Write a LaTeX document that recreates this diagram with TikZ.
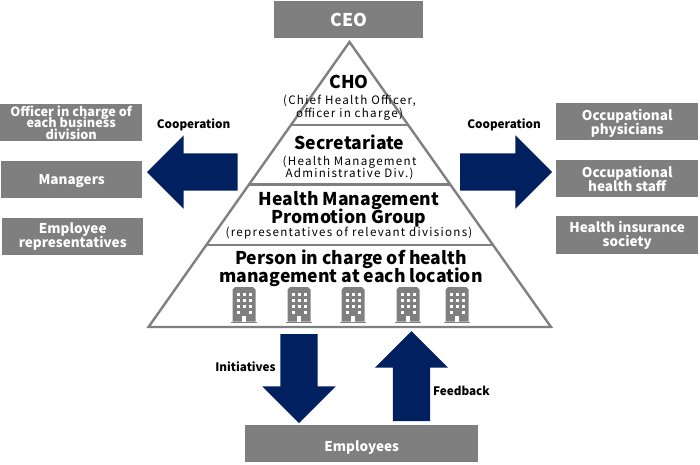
\documentclass[tikz,border=0pt]{standalone}
\usepackage{fontspec}
\setmainfont{Noto Sans CJK JP}
\usetikzlibrary{positioning}
\usetikzlibrary{calc}
\usetikzlibrary{shapes.arrows}
\definecolor{boxgray}{HTML}{7F7F7F}
\definecolor{linegray}{HTML}{808080}
\definecolor{arrownavy}{HTML}{002060}
\tikzset{
    every node/.append style={execute at begin node={\lineskiplimit=-100pt\relax}},
    graybox/.style={fill=boxgray,text=white,font=\bfseries\fontsize{13.5}{14}\selectfont,align=center,anchor=north west,inner sep=0pt},
    level/.style={align=center,font=\bfseries\fontsize{17.6}{18}\selectfont,inner sep=0pt},
    sublevel/.style={align=center,font=\fontsize{11.6}{12.5}\selectfont\addfontfeatures{LetterSpace=11},inner sep=0pt},
    tag/.style={font=\bfseries\fontsize{11.7}{14}\selectfont,inner sep=0pt},
    bigarrow/.style={single arrow,fill=arrownavy,inner sep=18.5pt,outer sep=0pt,minimum width=73,single arrow head extend=18,single arrow tip angle=90,anchor=tip},
    building/.pic={
        \fill[boxgray] (-13,17) rectangle (13,18.5);
        \fill[boxgray] (-11.5,17) -- (-11.5,-15) -- (-9,-17.5) -- (9,-17.5) -- (11.5,-15) -- (11.5,17) -- cycle;
        \foreach \wx in {-6,0,6}
            \foreach \wy in {-10,-4,2}
                \fill[white] (\wx-1.5,\wy-1.5) rectangle (\wx+1.5,\wy+1.5);
        \foreach \wx in {-6,6}
            \fill[white] (\wx-1.5,6.5) rectangle (\wx+1.5,9.5);
        \fill[white] (-1.7,11) rectangle (1.7,17);
    }
}

\begin{document}
\begin{tikzpicture}[x=1pt,y=-1pt]
    \useasboundingbox (0,0) rectangle (700,464);
    % pyramid
    \coordinate (apex) at (349.5,42);
    \coordinate (baseL) at (148.5,327);
    \coordinate (baseR) at (551,327);
    \draw [linegray,line width=2.4pt,line join=miter] (apex) -- (baseL) -- (baseR) -- cycle;
    \draw [linegray,line width=2.4pt] ($(apex)!0.291!(baseL)$) -- ($(apex)!0.291!(baseR)$);
    \draw [linegray,line width=2.4pt] ($(apex)!0.5!(baseL)$) -- ($(apex)!0.5!(baseR)$);
    \draw [linegray,line width=2.4pt] ($(apex)!0.712!(baseL)$) -- ($(apex)!0.712!(baseR)$);
    % levels
    \node (cho) [level] at (349,81.5) {CHO};
    \node (chosub) [sublevel] at (349.5,107.5) {(Chief Health Officer,\\officer in charge)};
    \node (secretariate) [level] at (349.5,142) {Secretariate};
    \node (secretariatesub) [sublevel] at (349.5,168) {(Health Management\\Administrative Div.)};
    \node (promotion) [level] at (349,209.5) {Health Management\\Promotion Group};
    \node (promotionsub) [sublevel] at (349,233.5) {(representatives of relevant divisions)};
    \node (person) [level] at (351,268.5) {Person in charge of health\\management at each location};
    % buildings
    \foreach \bx in {244,299,353,408,457}
        \pic at (\bx,304.5) {building};
    % boxes
    \node (ceo) [graybox,minimum width=149,minimum height=37,font=\bfseries\fontsize{17.6}{18}\selectfont] at (274,1) {CEO};
    \node (officer) [graybox,minimum width=142,minimum height=37,font=\bfseries\fontsize{12.7}{11.3}\selectfont] at (0,104) {Officer in charge of\\each business\\division};
    \node (managers) [graybox,minimum width=141,minimum height=37] at (1,161) {\rule{0pt}{13pt}Managers};
    \node (representatives) [graybox,minimum width=141,minimum height=37] at (2,218) {Employee\\representatives};
    \node (physicians) [graybox,minimum width=142,minimum height=37] at (556,103) {\rule{0pt}{15pt}Occupational\\physicians};
    \node (staff) [graybox,minimum width=142,minimum height=37] at (556,160) {Occupational\\health staff};
    \node (insurance) [graybox,minimum width=142,minimum height=38] at (556,216) {Health insurance\\society};
    \node (employees) [graybox,minimum width=233,minimum height=37] at (245,425) {\rule{0pt}{18pt}Employees};
    % arrows
    \node (cooperationL) [bigarrow,minimum height=90.5,shape border rotate=180] at (147,172) {};
    \node (cooperationR) [bigarrow,minimum height=92,shape border rotate=0] at (552,172) {};
    \node (initiatives) [bigarrow,minimum height=89,shape border rotate=270] at (299,423) {};
    \node (feedback) [bigarrow,minimum height=90,shape border rotate=90] at (411.5,331) {};
    % arrow labels
    \node (cooperationLlabel) [tag] at (193.5,124.5) {Cooperation};
    \node (cooperationRlabel) [tag] at (504,124.5) {Cooperation};
    \node (initiativeslabel) [tag] at (245.5,366.5) {Initiatives};
    \node (feedbacklabel) [tag] at (461.5,390.5) {Feedback};
\end{tikzpicture}
\end{document}
